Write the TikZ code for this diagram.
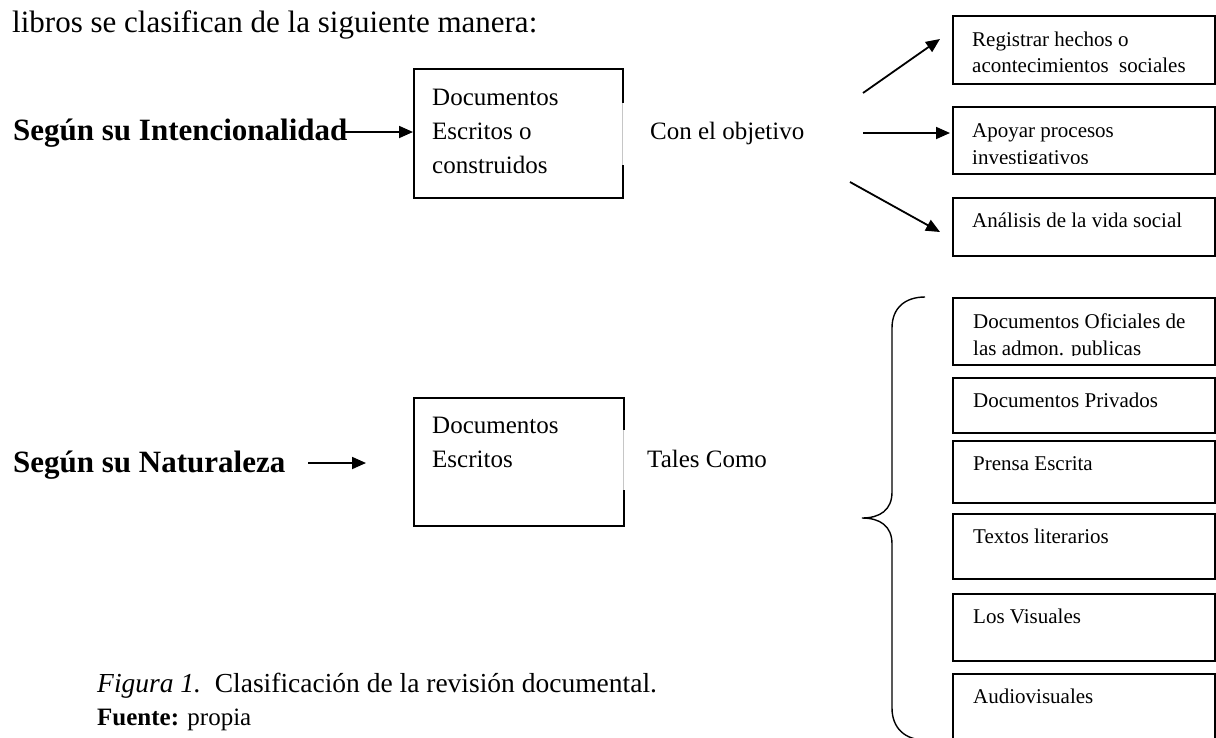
\documentclass[tikz,border=0pt]{standalone}
\usepackage{fontspec}
\setmainfont{Liberation Serif}
\usetikzlibrary{arrows.meta}
\begin{document}
\begin{tikzpicture}[x=1pt,y=-1pt,
  big/.style={font=\fontsize{25}{30}\selectfont, anchor=base west, inner sep=0pt},
  head/.style={font=\fontsize{31}{36}\selectfont, anchor=base west, inner sep=0pt},
  capt/.style={font=\fontsize{27.5}{32}\selectfont, anchor=base west, inner sep=0pt},
  ttl/.style={font=\fontsize{31}{36}\selectfont\bfseries, anchor=base west, inner sep=0pt},
  small/.style={font=\fontsize{21}{25}\selectfont, anchor=base west, inner sep=0pt},
  bx/.style={draw, line width=1.5pt, anchor=north west, inner sep=0pt},
  rbox/.style={bx, minimum width=262pt},
  arr/.style={line width=1.8pt, -{Triangle[length=14pt,width=12pt]}},
  gapline/.style={draw=gray!45, line width=0.6pt}
]
\clip (0,0) rectangle (1216,737);
\fill[white] (0,0) rectangle (1216,737);

% heading text
\node[head] (intro) at (12,32) {libros se clasifican de la siguiente manera:};

% --- upper row ---
\node[ttl] (tint) at (13,140) {Según su Intencionalidad};
\node[bx, minimum width=209pt, minimum height=129pt] (b1) at (413,68) {};
\fill[white] (619,103) rectangle (625,165);
\draw[gapline] (622,103) -- (622,165);
\node[big] (b1l1) at (432,105) {Documentos};
\node[big] (b1l2) at (432,139) {Escritos o};
\node[big] (b1l3) at (432,173) {construidos};
\coordinate (i1) at (343,132);
\draw[arr] (i1) -- (b1.west |- i1);
\node[big] (obj) at (650,139) {Con el objetivo};

\node[rbox, minimum height=68pt] (r1) at (952,15) {};
\node[small] (r1a) at (972,46) {Registrar hechos o};
\node[small] (r1b) at (972,72) {acontecimientos\ \ sociales};
\node[rbox, minimum height=67pt] (r2) at (952,106) {};
\begin{scope}
  \clip (952,106) rectangle (1214,163);
  \node[small] (r2a) at (972,137) {Apoyar procesos};
  \node[small] (r2b) at (972,164) {investigativos};
\end{scope}
\node[rbox, minimum height=58pt] (r3) at (952,197) {};
\node[small] (r3a) at (972,227) {Análisis de la vida social};

\coordinate (o1) at (863,93);
\coordinate (e1) at (940,39);
\coordinate (o2) at (863,133);
\coordinate (e2) at (950,133);
\coordinate (o3) at (850,182);
\coordinate (e3) at (940,232);
\draw[arr] (o1) -- (e1);
\draw[arr] (o2) -- (e2);
\draw[arr] (o3) -- (e3);

% --- lower row ---
\node[ttl] (tnat) at (13,472) {Según su Naturaleza};
\coordinate (n1) at (308,463);
\coordinate (n2) at (366,463);
\draw[arr] (n1) -- (n2);
\node[bx, minimum width=210pt, minimum height=128pt] (b2) at (413,397) {};
\fill[white] (620,430) rectangle (626,490);
\draw[gapline] (623,430) -- (623,490);
\node[big] (b2l1) at (432,433) {Documentos};
\node[big] (b2l2) at (432,467) {Escritos};
\node[big] (tal) at (647,467) {Tales Como};

% brace
\draw[line width=1.4pt] (925,297) .. controls (905,297) and (892,308) .. (892,328)
  -- (892,492) .. controls (892,510) and (880,518) .. (862,518)
  .. controls (880,518) and (892,526) .. (892,544)
  -- (892,708) .. controls (892,728) and (905,740) .. (925,740);

\node[rbox, minimum height=67pt] (s1) at (952,297) {};
\begin{scope}
  \clip (952,297) rectangle (1214,355);
  \node[small] (s1a) at (973,328) {Documentos Oficiales de};
  \node[small] (s1b) at (973,355) {las admon. publicas};
\end{scope}
\node[rbox, minimum height=55pt] (s2) at (952,377) {};
\node[small] (s2a) at (973,407) {Documentos Privados};
\node[rbox, minimum height=62pt] (s3) at (952,440) {};
\node[small] (s3a) at (973,470) {Prensa Escrita};
\node[rbox, minimum height=65pt] (s4) at (952,513) {};
\node[small] (s4a) at (973,543) {Textos literarios};
\node[rbox, minimum height=67pt] (s5) at (952,593) {};
\node[small] (s5a) at (973,623) {Los Visuales};
\node[rbox, minimum height=80pt] (s6) at (952,673) {};
\node[small] (s6a) at (973,703) {Audiovisuales};

% caption
\node[capt] (cap) at (97,692) {\textit{Figura 1.}\ \ Clasificación de la revisión documental.};
\node[big] (src) at (97,725) {\textbf{Fuente:} propia};
\end{tikzpicture}
\end{document}
